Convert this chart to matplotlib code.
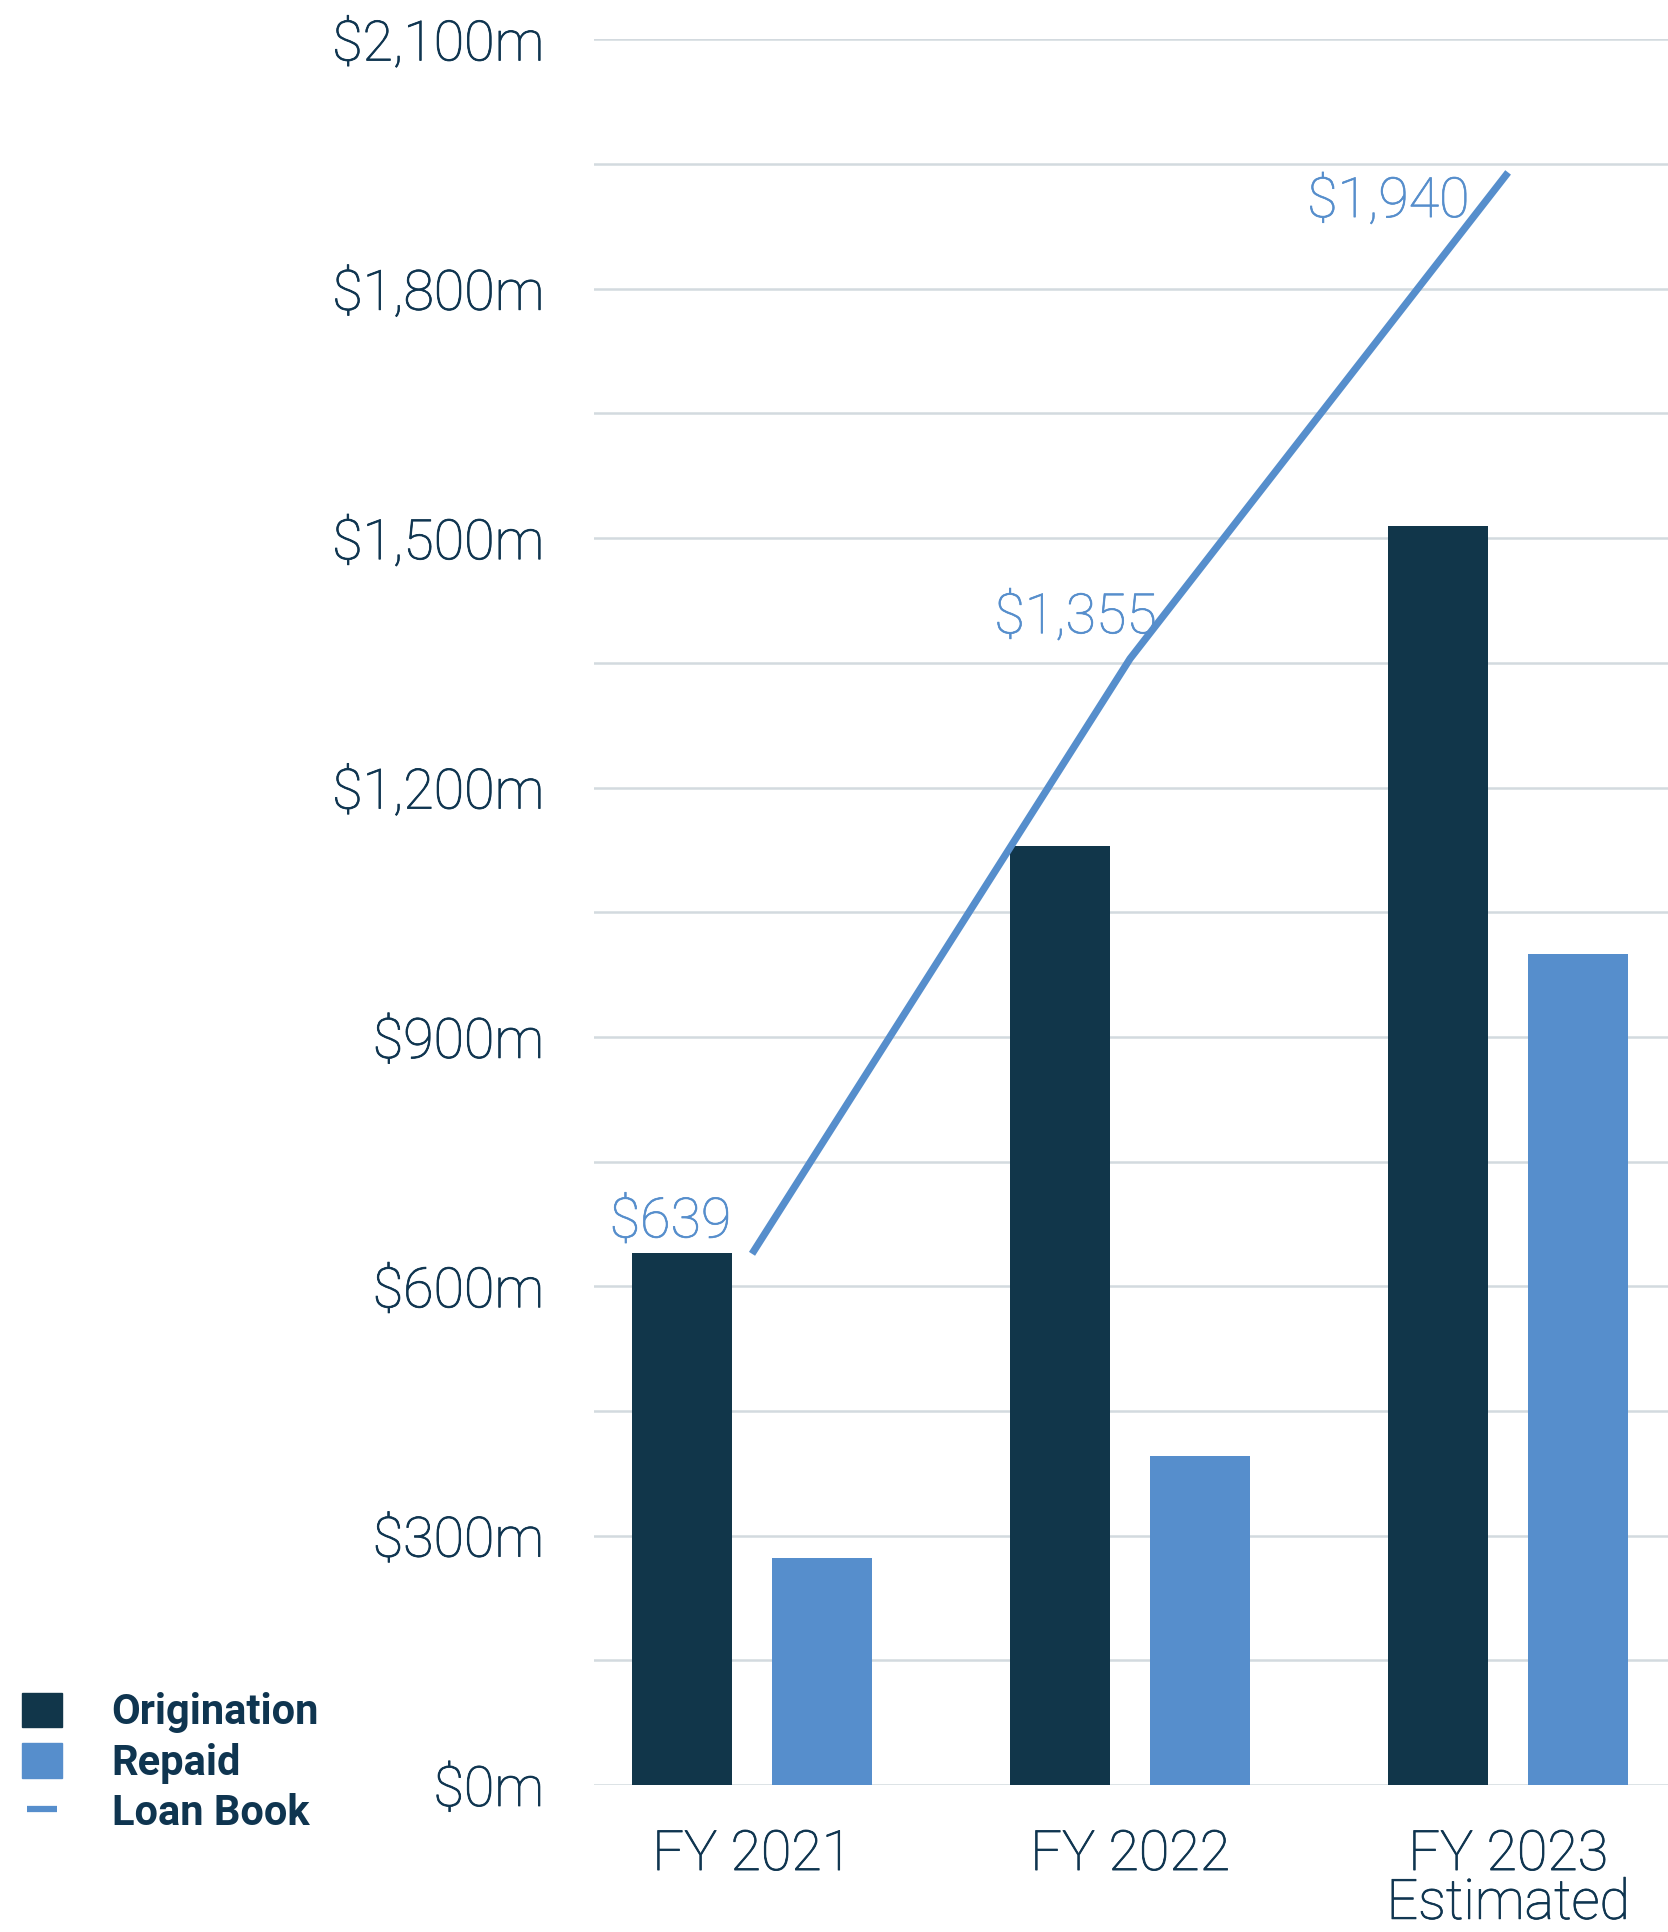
import numpy as np
import matplotlib
matplotlib.use("Agg")
import matplotlib.pyplot as plt
import matplotlib.patheffects as pe
from matplotlib.patches import Patch
from matplotlib.lines import Line2D
from matplotlib.ticker import MultipleLocator, FuncFormatter

# data ($m)
years = ["FY 2021", "FY 2022", "FY 2023\nEstimated"]
origination = [640, 1130, 1515]
repaid = [273, 396, 1000]
loan_book = [639, 1355, 1940]
loan_book_labels = ["$639", "$1,355", "$1,940"]

# colours
navy = "#11364a"
blue = "#568ecc"
text_col = "#0f3550"
grid_col = "#d3dadf"

plt.rcParams["font.family"] = ["Roboto", "DejaVu Sans"]

fig = plt.figure(figsize=(16.68, 19.32), dpi=100)
ax = fig.add_axes([594 / 1668, 0.0761, 1074 / 1668, 0.9796 - 0.0761])

x = np.arange(len(years))
bw = 0.265
off = 0.186
ax.bar(x - off, origination, width=bw, color=navy, zorder=3, label="Origination")
ax.bar(x + off, repaid, width=bw, color=blue, zorder=3, label="Repaid")
ax.plot(x, loan_book, color=blue, lw=5.2, zorder=4, label="Loan Book",
        solid_capstyle="butt")

# value labels for the loan book line
label_offsets = [(-15, 23), (19, 29.5), (-28, -21)]
for xi, v, s, (dx, dy) in zip(x, loan_book, loan_book_labels, label_offsets):
    ax.annotate(s, (xi, v), xytext=(dx, dy), textcoords="offset points",
                ha="right", va="center", fontsize=40, color=blue,
                fontweight="light", zorder=5,
                path_effects=[pe.withStroke(linewidth=0.5, foreground=blue)])

ax.set_xlim(-0.418, 2.423)
ax.set_ylim(0, 2100)
ax.yaxis.set_major_locator(MultipleLocator(300))
ax.yaxis.set_minor_locator(MultipleLocator(150))
ax.yaxis.set_major_formatter(FuncFormatter(lambda v, p: f"${v:,.0f}m"))
ax.grid(axis="y", which="both", color=grid_col, lw=1.8, zorder=0)
ax.set_axisbelow(True)
for sp in ax.spines.values():
    sp.set_visible(False)

ax.set_xticks(x)
ax.set_xticklabels(years, linespacing=0.9)
ax.tick_params(axis="both", which="both", length=0)
ax.tick_params(axis="y", pad=36, labelsize=40, labelcolor=text_col)
ax.tick_params(axis="x", pad=31, labelsize=40, labelcolor=text_col)
for t in ax.get_xticklabels() + ax.get_yticklabels():
    t.set_fontweight("light")
    t.set_path_effects([pe.withStroke(linewidth=0.6, foreground=text_col)])

handles = [
    Patch(color=navy, label="Origination"),
    Patch(color=blue, label="Repaid"),
    Line2D([0], [0], color=blue, marker="_", markersize=21, mew=4.5,
           ls="none", label="Loan Book"),
]
leg = fig.legend(handles=handles, loc="upper left", numpoints=1,
                 bbox_to_anchor=(22 / 1668, 0.124), frameon=False,
                 fontsize=30, handlelength=0.95, handleheight=0.9,
                 handletextpad=1.2, labelspacing=0.22, borderpad=0,
                 borderaxespad=0)
for t in leg.get_texts():
    t.set_color(text_col)
    t.set_fontweight("bold")

fig.savefig("out.png", dpi=100)
